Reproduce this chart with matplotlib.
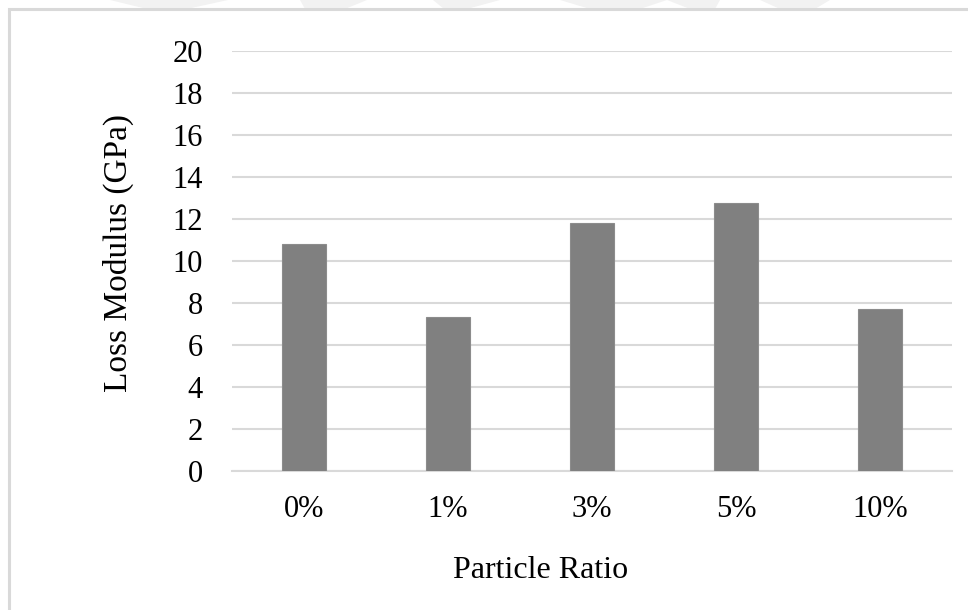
import matplotlib
matplotlib.use("Agg")
import matplotlib.pyplot as plt
from matplotlib.patches import Polygon, Rectangle

categories = ["0%", "1%", "3%", "5%", "10%"]
loss_modulus = [10.8, 7.35, 11.8, 12.75, 7.7]
y_ticks = [0, 2, 4, 6, 8, 10, 12, 14, 16, 18, 20]

plt.rcParams["font.family"] = ["Liberation Serif", "DejaVu Serif"]

W, H = 968, 610
fig = plt.figure(figsize=(W / 100, H / 100), dpi=100)
fig.patch.set_facecolor("white")

# faint background stripes along the top edge
stripes = [
    [(110, 0), (228, 0), (187, 9), (147, 9)],
    [(300, 0), (367, 0), (345, 9), (305, 9)],
    [(433, 0), (500, 0), (467, 9), (444, 9)],
    [(560, 0), (667, 0), (640, 9), (590, 9)],
    [(667, 0), (720, 0), (715, 9), (690, 9)],
    [(760, 0), (830, 0), (815, 9), (780, 9)],
]
for pts in stripes:
    fig.patches.append(Polygon([(x / W, 1 - y / H) for x, y in pts],
                               closed=True, transform=fig.transFigure,
                               facecolor="#f2f2f2", edgecolor="none", zorder=0))

# chart frame
fig.patches.append(Rectangle((9 / W, -0.05), 1.1, 1 - 9 / H + 0.05,
                             transform=fig.transFigure, facecolor="none",
                             edgecolor="#d9d9d9", linewidth=2.2, zorder=1))

ax = fig.add_axes([232 / W, 1 - 471 / H, 720 / W, 420 / H])
x = range(len(categories))
ax.bar(x, loss_modulus, width=0.31, color="#808080", edgecolor="#8c8c8c",
       linewidth=0.8, zorder=3)

ax.set_xlim(-0.5, len(categories) - 0.5)
ax.set_ylim(0, 20)
ax.set_yticks(y_ticks)
ax.set_xticks(list(x))
ax.set_xticklabels(categories)

ax.yaxis.grid(True, color="#d9d9d9", linewidth=1.5, zorder=0)
ax.set_axisbelow(True)
for side in ["top", "right", "left"]:
    ax.spines[side].set_visible(False)
ax.spines["bottom"].set_color("#d9d9d9")
ax.spines["bottom"].set_linewidth(1.5)

ax.tick_params(axis="both", length=0, labelsize=22, colors="black")
ax.tick_params(axis="y", pad=21)
ax.tick_params(axis="x", pad=17)

ax.set_ylabel("Loss Modulus (GPa)", fontsize=24)
ax.set_xlabel("Particle Ratio", fontsize=23)
ax.yaxis.set_label_coords((118 - 232) / 720, (471 - 253) / 420)
ax.xaxis.set_label_coords((541 - 232) / 720, -(570 - 471) / 420)
ax.xaxis.label.set_va("center")
ax.yaxis.label.set_va("center")

fig.savefig("out.png", dpi=100, facecolor="white")
